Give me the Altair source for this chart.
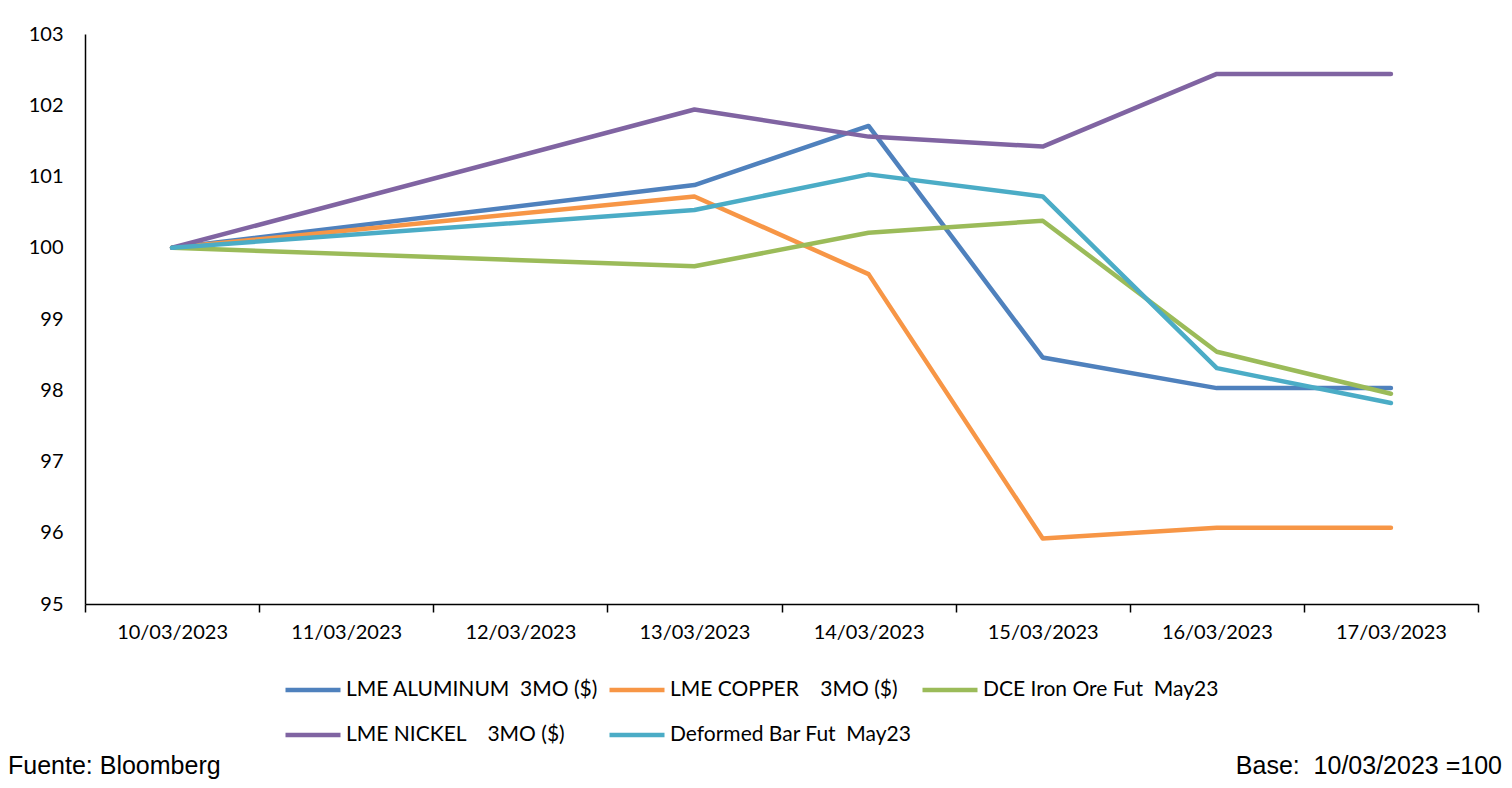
import altair as alt
import pandas as pd

all_dates = ["10/03/2023", "11/03/2023", "12/03/2023", "13/03/2023",
             "14/03/2023", "15/03/2023", "16/03/2023", "17/03/2023"]
dates = ["10/03/2023", "13/03/2023", "14/03/2023", "15/03/2023", "16/03/2023", "17/03/2023"]

series_names = [
    "LME ALUMINUM\u00a0\u00a03MO ($)",
    "LME COPPER\u00a0\u00a0\u00a0\u00a03MO ($)",
    "DCE Iron Ore Fut\u00a0\u00a0May23",
    "LME NICKEL\u00a0\u00a0\u00a0\u00a03MO ($)",
    "Deformed Bar Fut\u00a0\u00a0May23",
]
aluminum = [100, 100.88, 101.71, 98.46, 98.03, 98.03]
copper = [100, 100.72, 99.63, 95.92, 96.07, 96.07]
iron_ore = [100, 99.74, 100.21, 100.38, 98.54, 97.95]
nickel = [100, 101.94, 101.56, 101.42, 102.44, 102.44]
deformed_bar = [100, 100.53, 101.03, 100.72, 98.31, 97.82]
colors = ["#4F81BD", "#F79646", "#9BBB59", "#8064A2", "#4BACC6"]

rows = []
for name, vals in zip(series_names, [aluminum, copper, iron_ore, nickel, deformed_bar]):
    for d, v in zip(dates, vals):
        rows.append({"fecha": d, "valor": v, "serie": name})
df = pd.DataFrame(rows)

notes = pd.DataFrame({"texto": ["Fuente: Bloomberg", "Base:\u00a0 10/03/2023 =100"]})

FONT = "Lato"

lines = alt.Chart(df).mark_line(strokeWidth=4.5, strokeCap="round", strokeJoin="round").encode(
    x=alt.X("fecha:O", bandPosition=0.5,
            scale=alt.Scale(type="band", domain=all_dates, paddingInner=0, paddingOuter=0),
            axis=alt.Axis(title=None, labelAngle=0, tickBand="extent", tickSize=8,
                          tickColor="black", domainColor="black", domainWidth=1.5, tickWidth=1.5,
                          labelFont=FONT, labelFontSize=20, labelColor="black", labelPadding=10,
                          grid=False)),
    y=alt.Y("valor:Q",
            scale=alt.Scale(domain=[95, 103], nice=False, zero=False),
            axis=alt.Axis(title=None, values=list(range(95, 104)), ticks=False,
                          domainColor="black", domainWidth=1.5, grid=False,
                          labelFont=FONT, labelFontSize=20, labelColor="black", labelPadding=22)),
    color=alt.Color("serie:N",
                    scale=alt.Scale(domain=series_names, range=colors),
                    legend=alt.Legend(title=None, orient="none", legendX=198, legendY=626,
                                      direction="horizontal",
                                      columns=3, columnPadding=1, rowPadding=5,
                                      symbolType="stroke", symbolSize=3025, symbolStrokeWidth=4.5,
                                      labelFont=FONT, labelFontSize=21, labelColor="black",
                                      labelOffset=3, labelLimit=400)),
    order=alt.Order("fecha:O"),
)

fuente = alt.Chart(notes).transform_filter(alt.datum.texto == "Fuente: Bloomberg").mark_text(
    align="left", baseline="alphabetic", font="Liberation Sans", fontSize=25, color="black"
).encode(x=alt.value(-77), y=alt.value(740), text="texto:N")

base = alt.Chart(notes).transform_filter(alt.datum.texto != "Fuente: Bloomberg").mark_text(
    align="right", baseline="alphabetic", font="Liberation Sans", fontSize=25, color="black"
).encode(x=alt.value(1417), y=alt.value(740), text="texto:N")

chart = alt.layer(lines, fuente, base).properties(
    width=1393, height=570,
    background="white",
    autosize=alt.AutoSizeParams(type="none"),
    padding={"left": 77, "top": 26, "right": 26, "bottom": 176},
).configure_view(stroke=None)

chart.save("out.html", embed_options={"renderer": "svg", "actions": False})
